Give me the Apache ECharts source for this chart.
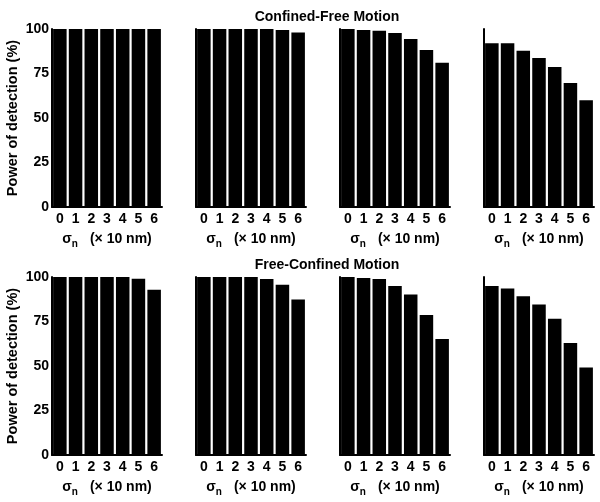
<!DOCTYPE html>
<html><head><meta charset="utf-8">
<script src="https://cdn.jsdelivr.net/npm/echarts@6/dist/echarts.min.js"></script>
<style>html,body{margin:0;padding:0;background:#fff}#c{width:600px;height:502px}</style>
</head><body><div id="c"></div>
<script>
const categories = ['0','1','2','3','4','5','6'];
const yTicks = [0, 25, 50, 75, 100];
const titles = ['Confined-Free Motion', 'Free-Confined Motion'];
const yName = 'Power of detection (%)';
// Confined-Free Motion (top row), panels left to right
const cfPanel1 = [100, 100, 100, 100, 100, 100, 100];
const cfPanel2 = [100, 100, 100, 100, 100, 99.5, 98];
const cfPanel3 = [100, 99.5, 99, 97.8, 94.4, 88.2, 81];
const cfPanel4 = [92, 92, 87.8, 83.7, 78.7, 69.7, 60];
// Free-Confined Motion (bottom row)
const fcPanel1 = [100, 100, 100, 100, 100, 99, 92.9];
const fcPanel2 = [100, 100, 100, 100, 98.9, 95.7, 87.3];
const fcPanel3 = [100, 99.5, 98.9, 95, 90.1, 78.7, 65.2];
const fcPanel4 = [94.9, 93.5, 89.2, 84.5, 76.6, 62.9, 49.1];

const rows = [[cfPanel1, cfPanel2, cfPanel3, cfPanel4], [fcPanel1, fcPanel2, fcPanel3, fcPanel4]];
const lefts = [52, 196, 340, 484];
const tops = [29, 277];
const W = 110, H = 178;
const FONT = 'Liberation Sans, Arial, sans-serif';

const grid = [], xAxis = [], yAxis = [], series = [];
let gi = 0;
rows.forEach((row, r) => {
  row.forEach((vals, c) => {
    grid.push({left: lefts[c], top: tops[r], width: W, height: H, containLabel: false});
    xAxis.push({
      type: 'category', gridIndex: gi, data: categories,
      axisLine: {show: true, lineStyle: {color: '#000', width: 2}},
      axisTick: {show: false},
      axisLabel: {color: '#000', fontWeight: 'bold', fontSize: 14, fontFamily: FONT, margin: 5, interval: 0},
      name: '{s|σ}{sub|n}{g|}{s|(× 10 nm)}',
      nameLocation: 'middle', nameGap: 21,
      nameTextStyle: {
        rich: {
          s: {fontSize: 14, fontWeight: 'bold', color: '#000', fontFamily: FONT, lineHeight: 20, verticalAlign: 'middle'},
          sub: {fontSize: 10, fontWeight: 'bold', color: '#000', fontFamily: FONT, lineHeight: 20, verticalAlign: 'bottom', padding: [12, 0, 0, 0]},
          g: {width: 12}
        }
      }
    });
    yAxis.push({
      type: 'value', gridIndex: gi, min: 0, max: 100, interval: 25,
      axisLine: {show: true, lineStyle: {color: '#000', width: 2, cap: 'round'}},
      axisTick: {show: false},
      splitLine: {show: false},
      axisLabel: {show: c === 0, color: '#000', fontWeight: 'bold', fontSize: 14, fontFamily: FONT, margin: 3,
        formatter: v => yTicks.indexOf(v) >= 0 ? String(v) : ''},
      name: c === 0 ? yName : '',
      nameLocation: 'middle', nameGap: 32, nameRotate: 90,
      nameTextStyle: {color: '#000', fontWeight: 'bold', fontSize: 14.5, fontFamily: FONT}
    });
    series.push({
      type: 'bar', xAxisIndex: gi, yAxisIndex: gi, data: vals,
      barCategoryGap: '14%', itemStyle: {color: '#000'}, silent: true, animation: false
    });
    gi++;
  });
});

const title = titles.map((t, i) => ({
  text: t, left: 322, textAlign: 'center', top: i === 0 ? 5 : 253,
  textStyle: {color: '#000', fontWeight: 'bold', fontSize: 14, fontFamily: FONT}
}));

const chart = echarts.init(document.getElementById('c'), null, {renderer: 'canvas'});
chart.setOption({backgroundColor: '#fff', animation: false, title, grid, xAxis, yAxis, series});
</script></body></html>
